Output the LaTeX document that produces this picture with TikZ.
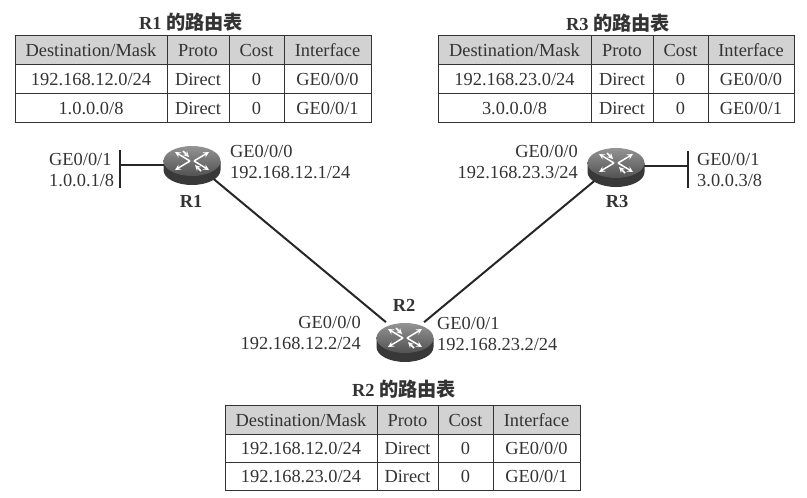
\documentclass[tikz,border=0pt]{standalone}
\usepackage{fontspec}
\usepackage{tikz}
\usepackage{xcolor}
\usetikzlibrary{shapes.geometric}
\setmainfont{Liberation Serif}
\newfontfamily\cjk{Noto Sans CJK SC}
\definecolor{inkgray}{HTML}{333333}
\definecolor{headgray}{HTML}{D2D2D2}

\begin{document}
\begin{tikzpicture}[x=1pt, y=-1pt,
    every node/.style={inner sep=0pt, text=inkgray, font=\fontsize{18.4}{20.5}\selectfont},
    cell/.style={draw=inkgray, line width=0.9pt, minimum height=29pt, text height=14pt, text depth=1pt},
    headcell/.style={cell, fill=headgray},
    tabletitle/.style={font=\fontsize{18.4}{20.5}\selectfont\bfseries},
    routername/.style={font=\fontsize{18.4}{20.5}\selectfont\bfseries},
    addr/.style={align=left, anchor=west},
    addrright/.style={align=right, anchor=east},
    routerspot/.style={ellipse, minimum width=57pt, minimum height=42pt},
    link/.style={draw=black!85, line width=2pt},
    iconarrow/.style={white, line width=1.5pt, -stealth},
    router/.pic={
      \fill[black!78] (-28.5,0) -- (-28.5,9) arc[start angle=180, end angle=0, x radius=28.5, y radius=15] -- (28.5,0) -- cycle;
      \shade[top color=black!42, bottom color=black!68] (0,0) ellipse[x radius=28.5, y radius=15];
      \draw[iconarrow] (-2,0) -- (-17,-9);
      \draw[iconarrow] (2,0) -- (17,-9);
      \draw[iconarrow] (-2,0) -- (-17,9);
      \draw[iconarrow] (2,0) -- (17,9);
      \draw[iconarrow] (-9,-10) -- (-3,-4);
      \draw[iconarrow] (9,10) -- (3,4);
    }]
  \useasboundingbox (0,0) rectangle (807,498);

  % R1 table
  \node[tabletitle] (t1title) at (191,22) {R1 {\cjk\fontsize{19.2}{20.5}\selectfont 的路由表}};
  \node[headcell, minimum width=152pt] (t1h1) at (91,49.5) {Destination/Mask};
  \node[headcell, minimum width=62pt] (t1h2) at (198,49.5) {Proto};
  \node[headcell, minimum width=55pt] (t1h3) at (256.5,49.5) {Cost};
  \node[headcell, minimum width=87pt] (t1h4) at (327.5,49.5) {Interface};
  \node[cell, minimum width=152pt] (t1a1) at (91,78.5) {192.168.12.0/24};
  \node[cell, minimum width=62pt] (t1a2) at (198,78.5) {Direct};
  \node[cell, minimum width=55pt] (t1a3) at (256.5,78.5) {0};
  \node[cell, minimum width=87pt] (t1a4) at (327.5,78.5) {GE0/0/0};
  \node[cell, minimum width=152pt] (t1b1) at (91,107.5) {1.0.0.0/8};
  \node[cell, minimum width=62pt] (t1b2) at (198,107.5) {Direct};
  \node[cell, minimum width=55pt] (t1b3) at (256.5,107.5) {0};
  \node[cell, minimum width=87pt] (t1b4) at (327.5,107.5) {GE0/0/1};

  % R3 table
  \node[tabletitle] (t3title) at (618,23) {R3 {\cjk\fontsize{19.2}{20.5}\selectfont 的路由表}};
  \node[headcell, minimum width=153pt] (t3h1) at (514.5,50) {Destination/Mask};
  \node[headcell, minimum width=62pt] (t3h2) at (622,50) {Proto};
  \node[headcell, minimum width=55pt] (t3h3) at (680.5,50) {Cost};
  \node[headcell, minimum width=86pt] (t3h4) at (751,50) {Interface};
  \node[cell, minimum width=153pt] (t3a1) at (514.5,79) {192.168.23.0/24};
  \node[cell, minimum width=62pt] (t3a2) at (622,79) {Direct};
  \node[cell, minimum width=55pt] (t3a3) at (680.5,79) {0};
  \node[cell, minimum width=86pt] (t3a4) at (751,79) {GE0/0/0};
  \node[cell, minimum width=153pt] (t3b1) at (514.5,108) {3.0.0.0/8};
  \node[cell, minimum width=62pt] (t3b2) at (622,108) {Direct};
  \node[cell, minimum width=55pt] (t3b3) at (680.5,108) {0};
  \node[cell, minimum width=86pt] (t3b4) at (751,108) {GE0/0/1};

  % R2 table
  \node[tabletitle] (t2title) at (404,389) {R2 {\cjk\fontsize{19.2}{20.5}\selectfont 的路由表}};
  \node[headcell, minimum width=152pt] (t2h1) at (301,420) {Destination/Mask};
  \node[headcell, minimum width=61pt] (t2h2) at (407.5,420) {Proto};
  \node[headcell, minimum width=55pt] (t2h3) at (465.5,420) {Cost};
  \node[headcell, minimum width=87pt] (t2h4) at (536.5,420) {Interface};
  \node[cell, minimum width=152pt, minimum height=28pt] (t2a1) at (301,448) {192.168.12.0/24};
  \node[cell, minimum width=61pt, minimum height=28pt] (t2a2) at (407.5,448) {Direct};
  \node[cell, minimum width=55pt, minimum height=28pt] (t2a3) at (465.5,448) {0};
  \node[cell, minimum width=87pt, minimum height=28pt] (t2a4) at (536.5,448) {GE0/0/0};
  \node[cell, minimum width=152pt, minimum height=28pt] (t2b1) at (301,476) {192.168.23.0/24};
  \node[cell, minimum width=61pt, minimum height=28pt] (t2b2) at (407.5,476) {Direct};
  \node[cell, minimum width=55pt, minimum height=28pt] (t2b3) at (465.5,476) {0};
  \node[cell, minimum width=87pt, minimum height=28pt] (t2b4) at (536.5,476) {GE0/0/1};

  % Routers
  \node[routerspot] (r1) at (192,161) {};
  \node[routerspot] (r2) at (405,338) {};
  \node[routerspot] (r3) at (616,163) {};
  \coordinate (p1) at (120,165);
  \coordinate (p1a) at (120,150);
  \coordinate (p1b) at (120,188);
  \coordinate (p3) at (688,166);
  \coordinate (p3a) at (688,151);
  \coordinate (p3b) at (688,188);

  % Links
  \draw[link] (r1) -- (r2);
  \draw[link] (r3) -- (r2);
  \draw[link] (p1) -- (p1 -| r1);
  \draw[link] (p1a) -- (p1b);
  \draw[link] (p3) -- (p3 -| r3);
  \draw[link] (p3a) -- (p3b);
  \pic at (r1) {router};
  \pic at (r2) {router};
  \pic at (r3) {router};

  % Labels
  \node[routername] (r1name) at (191,201) {R1};
  \node[routername] (r2name) at (404,305) {R2};
  \node[routername] (r3name) at (617,201) {R3};
  \node[addr] (r1left) at (49,170) {GE0/0/1\\1.0.0.1/8};
  \node[addr] (r1right) at (230,162) {GE0/0/0\\192.168.12.1/24};
  \node[addrright] (r2left) at (361,333) {GE0/0/0\\192.168.12.2/24};
  \node[addr] (r2right) at (437,334) {GE0/0/1\\192.168.23.2/24};
  \node[addrright] (r3left) at (578,162) {GE0/0/0\\192.168.23.3/24};
  \node[addr] (r3right) at (697,170) {GE0/0/1\\3.0.0.3/8};
\end{tikzpicture}
\end{document}
